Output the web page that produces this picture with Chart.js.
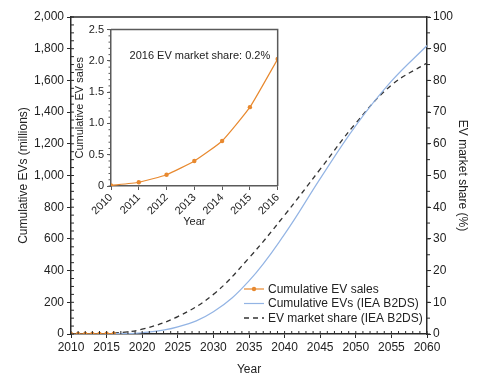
<!DOCTYPE html>
<html><head><meta charset="utf-8">
<script src="https://cdn.jsdelivr.net/npm/chart.js@4/dist/chart.umd.min.js"></script>
<style>
html,body{margin:0;padding:0;background:#fff;}
#wrap{position:relative;width:484px;height:377px;overflow:hidden;}
#main{position:absolute;left:0;top:0;}
#inset{position:absolute;left:72px;top:20px;}
</style></head><body>
<div id="wrap"><canvas id="main" width="484" height="377"></canvas><canvas id="inset" width="216" height="209"></canvas></div>
<script>
// ---- data ----
const salesYears = [2010, 2011, 2012, 2013, 2014, 2015, 2016];
const salesValues = [0.01, 0.06, 0.18, 0.40, 0.72, 1.26, 2.03]; // millions
const b2dsYears = [2016, 2020, 2025, 2030, 2035, 2040, 2045, 2050, 2055, 2060];
const b2dsCumulative = [2, 8, 45, 140, 335, 630, 980, 1315, 1595, 1820]; // millions
const b2dsShare = [0.2, 1.5, 5.5, 12.5, 24, 37.5, 52, 66.5, 78.5, 85.5]; // %
const legendLabels = ['Cumulative EV sales', 'Cumulative EVs (IEA B2DS)', 'EV market share (IEA B2DS)'];
const insetNote = '2016 EV market share: 0.2%';
const insetNoteAt = {x: 2013.2, y: 2.08};

// ---- styles ----
const ORANGE = '#E8892F';
const BLUE = '#93B4E4';
const DASH = '#333333';
const AXIS = '#2a2a2a';
const INSET_AXIS = '#5a5a5a';
const FAMILY = "'Liberation Sans', Arial, Helvetica, sans-serif";
Chart.defaults.font.family = FAMILY;
Chart.defaults.font.size = 12;
Chart.defaults.color = '#222';

const minorTicks = {
  id: 'minorTicks',
  afterDraw(chart, args, opts) {
    const ctx = chart.ctx;
    ctx.save();
    ctx.strokeStyle = opts.color;
    ctx.lineWidth = 1;
    for (const a of opts.axes) {
      const s = chart.scales[a.id];
      const n = Math.round((s.max - s.min) / a.step);
      ctx.beginPath();
      for (let i = 0; i <= n; i++) {
        const v = s.min + i * a.step;
        const p = s.getPixelForValue(v);
        if (s.isHorizontal()) {
          const y0 = chart.chartArea.bottom;
          ctx.moveTo(p, y0); ctx.lineTo(p, y0 + a.dir * a.len);
        } else {
          const x0 = s.position === 'left' ? chart.chartArea.left : chart.chartArea.right;
          ctx.moveTo(x0, p); ctx.lineTo(x0 + a.dir * a.len, p);
        }
      }
      ctx.stroke();
    }
    if (opts.box) {
      const ca = chart.chartArea;
      ctx.strokeStyle = opts.boxColor;
      ctx.lineWidth = opts.boxWidth;
      ctx.beginPath();
      ctx.moveTo(ca.left, ca.top); ctx.lineTo(ca.right, ca.top);
      if (opts.boxRight) ctx.lineTo(ca.right, ca.bottom);
      ctx.stroke();
    }
    ctx.restore();
  }
};

const legendPlugin = {
  id: 'customLegend',
  afterDraw(chart, args, opts) {
    const ctx = chart.ctx;
    ctx.save();
    ctx.font = '12px ' + FAMILY;
    ctx.textBaseline = 'middle';
    ctx.fillStyle = '#222';
    chart.data.datasets.forEach((ds, i) => {
      const y = opts.y + i * opts.gap;
      ctx.strokeStyle = ds.borderColor;
      ctx.lineWidth = ds.borderWidth;
      ctx.setLineDash(ds.borderDash || []);
      ctx.beginPath(); ctx.moveTo(opts.x, y); ctx.lineTo(opts.x + opts.len, y); ctx.stroke();
      ctx.setLineDash([]);
      if (ds.pointRadius > 0) {
        ctx.fillStyle = ds.borderColor;
        ctx.beginPath(); ctx.arc(opts.x + opts.len / 2, y, ds.pointRadius, 0, Math.PI * 2); ctx.fill();
      }
      ctx.fillStyle = '#222';
      ctx.fillText(ds.label, opts.x + opts.len + 4, y + 0.5);
    });
    ctx.restore();
  }
};

const notePlugin = {
  id: 'note',
  afterDraw(chart, args, opts) {
    const ctx = chart.ctx;
    ctx.save();
    ctx.font = '11px ' + FAMILY;
    ctx.fillStyle = '#222';
    ctx.textAlign = 'center';
    ctx.textBaseline = 'middle';
    ctx.fillText(opts.text, chart.scales.x.getPixelForValue(opts.at.x), chart.scales.y.getPixelForValue(opts.at.y));
    ctx.restore();
  }
};

const pts = (xs, ys) => xs.map((x, i) => ({x, y: ys[i]}));

new Chart(document.getElementById('main'), {
  type: 'line',
  data: {
    datasets: [
      {label: legendLabels[0], data: pts(salesYears, salesValues), borderColor: ORANGE, backgroundColor: ORANGE,
       borderWidth: 1.2, pointRadius: 2.2, pointBorderWidth: 0, yAxisID: 'y'},
      {label: legendLabels[1], data: pts(b2dsYears, b2dsCumulative), borderColor: BLUE, borderWidth: 1.2,
       pointRadius: 0, tension: 0.4, yAxisID: 'y'},
      {label: legendLabels[2], data: pts(b2dsYears, b2dsShare), borderColor: DASH, borderWidth: 1.3,
       borderDash: [5, 4], pointRadius: 0, tension: 0.4, yAxisID: 'y1'}
    ]
  },
  options: {
    responsive: false, animation: false, events: [],
    layout: {padding: {top: 17, left: 0, right: 0, bottom: 0}},
    plugins: {
      legend: {display: false}, tooltip: {enabled: false},
      minorTicks: {color: AXIS, axes: [
        {id: 'x', step: 1, dir: -1, len: 3},
        {id: 'y', step: 50, dir: 1, len: 3},
        {id: 'y1', step: 5, dir: 1, len: 3}
      ], box: true, boxColor: AXIS, boxWidth: 1.5, boxRight: false},
      customLegend: {x: 244, y: 289, gap: 14.5, len: 20}
    },
    scales: {
      x: {type: 'linear', min: 2010, max: 2060,
          ticks: {stepSize: 5, callback: v => String(v), padding: 2, maxRotation: 0, autoSkip: false, color: '#222'},
          grid: {drawOnChartArea: false, tickLength: 4, color: AXIS},
          border: {color: AXIS, width: 1.5},
          title: {display: true, text: 'Year', padding: 0},
          afterFit: s => { s.height = 43; }},
      y: {position: 'left', min: 0, max: 2000,
          ticks: {stepSize: 200, callback: v => v.toLocaleString('en-US'), padding: 3},
          grid: {drawOnChartArea: false, tickLength: 4, color: AXIS},
          border: {color: AXIS, width: 1.5},
          title: {display: true, text: 'Cumulative EVs (millions)', padding: {top: 16, bottom: 0}},
          afterFit: s => { s.width = 71; }},
      y1: {position: 'right', min: 0, max: 100,
          ticks: {stepSize: 10, padding: 2},
          grid: {drawOnChartArea: false, tickLength: 4, color: AXIS},
          border: {color: AXIS, width: 1.5},
          title: {display: true, text: 'EV market share (%)', padding: {top: 14, bottom: 0}},
          afterFit: s => { s.width = 57; }}
    }
  },
  plugins: [minorTicks, legendPlugin]
});

new Chart(document.getElementById('inset'), {
  type: 'line',
  data: {
    datasets: [
      {label: legendLabels[0], data: pts(salesYears, salesValues), borderColor: ORANGE, backgroundColor: ORANGE,
       borderWidth: 1.2, pointRadius: 2.2, pointBorderWidth: 0, tension: 0.15}
    ]
  },
  options: {
    responsive: false, animation: false, events: [],
    layout: {padding: {top: 7, left: 0, right: 8, bottom: 0}},
    plugins: {
      legend: {display: false}, tooltip: {enabled: false},
      minorTicks: {color: INSET_AXIS, axes: [
        {id: 'y', step: 0.1, dir: -1, len: 2.5}
      ], box: true, boxColor: INSET_AXIS, boxWidth: 1.5, boxRight: true},
      note: {text: insetNote, at: insetNoteAt}
    },
    scales: {
      x: {type: 'linear', min: 2010, max: 2016,
          ticks: {stepSize: 1, callback: v => String(v), padding: 1, minRotation: 45, maxRotation: 45, autoSkip: false, font: {size: 11}},
          grid: {drawOnChartArea: false, tickLength: 4, color: INSET_AXIS},
          border: {color: INSET_AXIS, width: 1.5},
          title: {display: true, text: 'Year', padding: 0, font: {size: 11}},
          afterFit: s => { s.height = 43; }},
      y: {min: 0, max: 2.5,
          ticks: {stepSize: 0.5, padding: 3, font: {size: 11}},
          grid: {drawOnChartArea: false, tickLength: 4, color: INSET_AXIS},
          border: {color: INSET_AXIS, width: 1.5},
          title: {display: true, text: 'Cumulative EV sales', padding: {top: 1, bottom: 0}, font: {size: 11}},
          afterFit: s => { s.width = 39; }}
    }
  },
  plugins: [minorTicks, notePlugin]
});
</script>
</body></html>
